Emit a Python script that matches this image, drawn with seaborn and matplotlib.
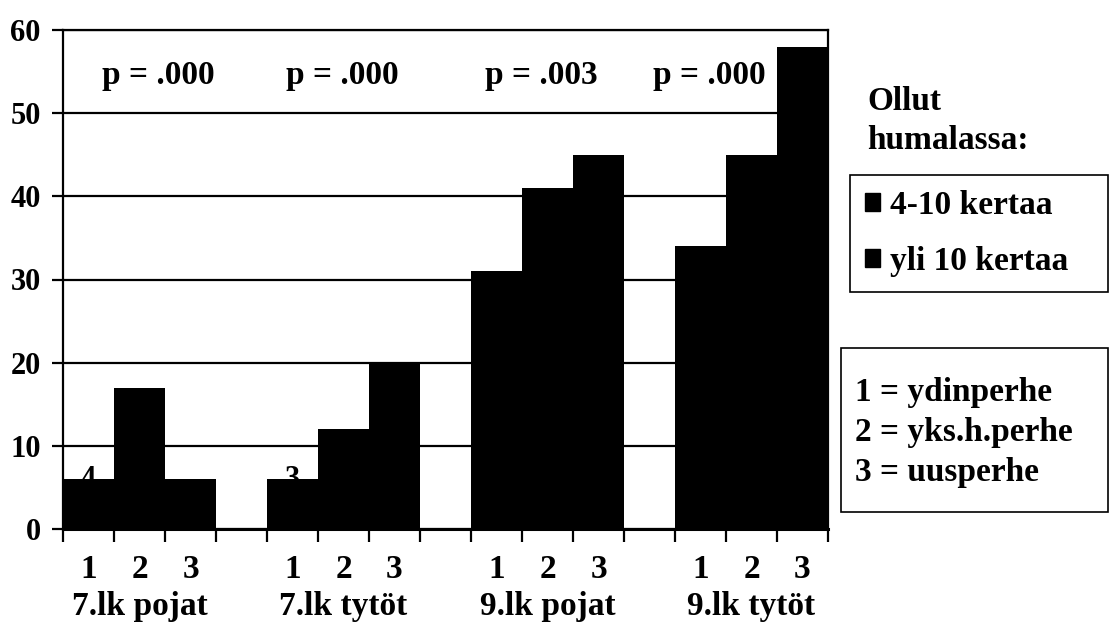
import matplotlib
matplotlib.use("Agg")
import matplotlib.pyplot as plt
from matplotlib.patches import Patch, Rectangle
from matplotlib.transforms import blended_transform_factory
import seaborn as sns
import pandas as pd

# ---------------- data ----------------
groups = ["7.lk pojat", "7.lk tytöt", "9.lk pojat", "9.lk tytöt"]
family_codes = ["1", "2", "3"]
vals_7_pojat = [6, 17, 6]
vals_7_tytot = [6, 12, 20]
vals_9_pojat = [31, 41, 45]
vals_9_tytot = [34, 45, 58]
p_values = ["p = .000", "p = .000", "p = .003", "p = .000"]
series_names = ["4-10 kertaa", "yli 10 kertaa"]
legend_title = ["Ollut", "humalassa:"]
family_key = ["1 = ydinperhe", "2 = yks.h.perhe", "3 = uusperhe"]
bar_notes = [("7.lk pojat", "1", "4"), ("7.lk tytöt", "1", "3")]
y_ticks = [0, 10, 20, 30, 40, 50, 60]

# ---------------- style ----------------
sns.set_theme(style="white")
plt.rcParams["font.family"] = ["Liberation Serif", "DejaVu Serif"]
plt.rcParams["font.weight"] = "bold"
plt.rcParams["text.color"] = "black"
plt.rcParams["xtick.color"] = "black"
plt.rcParams["ytick.color"] = "black"

all_vals = [vals_7_pojat, vals_7_tytot, vals_9_pojat, vals_9_tytot]
slot = len(family_codes) + 1
rows = []
for gi, (g, vals) in enumerate(zip(groups, all_vals)):
    for fi, (f, v) in enumerate(zip(family_codes, vals)):
        rows.append({"group": g, "family": f, "pos": gi * slot + fi, "value": v})
df = pd.DataFrame(rows)
n_slots = len(groups) * slot - 1

W, H = 1110, 634
fig = plt.figure(figsize=(W / 100, H / 100), dpi=100)
fig.patch.set_facecolor("white")
ax = fig.add_axes([63 / W, 1 - 529 / H, (828 - 63) / W, (529 - 30) / H])

sns.barplot(data=df, x="pos", y="value", native_scale=True, width=1.0,
            color="black", saturation=1, edgecolor="black", linewidth=0,
            ax=ax, zorder=3)

ax.set_xlim(-0.5, n_slots - 0.5)
ax.set_ylim(y_ticks[0], y_ticks[-1])
ax.set_xlabel("")
ax.set_ylabel("")

# grid
ax.set_axisbelow(True)
ax.yaxis.grid(True, color="black", lw=1.6)
ax.xaxis.grid(False)

for s in ["left", "top", "right"]:
    ax.spines[s].set_visible(True)
    ax.spines[s].set_color("black")
    ax.spines[s].set_linewidth(1.6)
ax.spines["bottom"].set_color("black")
ax.spines["bottom"].set_linewidth(2.2)

# y ticks
ax.set_yticks(y_ticks)
ax.set_yticklabels([str(t) for t in y_ticks])
ax.tick_params(axis="y", direction="out", length=8, width=1.6, labelsize=22, pad=8, left=True)

# x ticks: boundaries (major) and category labels (minor)
ax.set_xticks([i - 0.5 for i in range(n_slots + 1)])
ax.set_xticklabels([""] * (n_slots + 1))
ax.set_xticks(df["pos"].tolist(), minor=True)
ax.set_xticklabels(df["family"].tolist(), minor=True)
ax.tick_params(axis="x", which="major", direction="out", length=9, width=1.6, bottom=True)
ax.tick_params(axis="x", which="minor", length=0, pad=18, labelsize=24, bottom=True)
for lbl in ax.get_xticklabels(minor=True) + ax.get_yticklabels():
    lbl.set_fontweight("bold")

trans = blended_transform_factory(ax.transData, ax.transAxes)
for gi, g in enumerate(groups):
    ax.text(gi * slot + (len(family_codes) - 1) / 2, -0.156, g, transform=trans,
            ha="center", va="center", fontsize=24, fontweight="bold")

# p-values
p_x = [1.36, 4.97, 8.87, 12.17]
for x, p in zip(p_x, p_values):
    ax.text(x, 53.5, p, ha="center", va="baseline", fontsize=24, fontweight="bold", zorder=5)

# partially hidden notes on bars
for g, f, note in bar_notes:
    r = df[(df["group"] == g) & (df["family"] == f)].iloc[0]
    ax.text(r["pos"], r["value"], note, ha="center", va="center", fontsize=22,
            fontweight="bold", zorder=4)

# legend title
fig.text(867 / W, 1 - 101 / H, legend_title[0], ha="left", va="center", fontsize=24, fontweight="bold")
fig.text(867 / W, 1 - 141 / H, legend_title[1], ha="left", va="center", fontsize=24, fontweight="bold")

handles = [Patch(facecolor="black", edgecolor="black") for _ in series_names]
leg = fig.legend(handles=handles, labels=series_names, loc="upper left",
                 bbox_to_anchor=(850 / W, 1 - 307 / H, (1108 - 850) / W, (307 - 175) / H),
                 mode="expand", frameon=True, fancybox=False, edgecolor="black",
                 framealpha=1, fontsize=24, handlelength=0.45, handleheight=0.45,
                 handletextpad=0.3, labelspacing=0.75, borderpad=0.45, borderaxespad=0)
leg.get_frame().set_linewidth(1.2)
for t in leg.get_texts():
    t.set_fontweight("bold")

# family key box
fig.patches.append(Rectangle((841 / W, 1 - 512 / H), (1108 - 841) / W, (512 - 348) / H,
                             transform=fig.transFigure, fill=False, edgecolor="black", lw=1.2))
for yc, txt in zip([393, 433, 472], family_key):
    fig.text(855 / W, 1 - yc / H, txt, ha="left", va="center", fontsize=24, fontweight="bold")

fig.savefig("out.png", dpi=100, facecolor="white")
